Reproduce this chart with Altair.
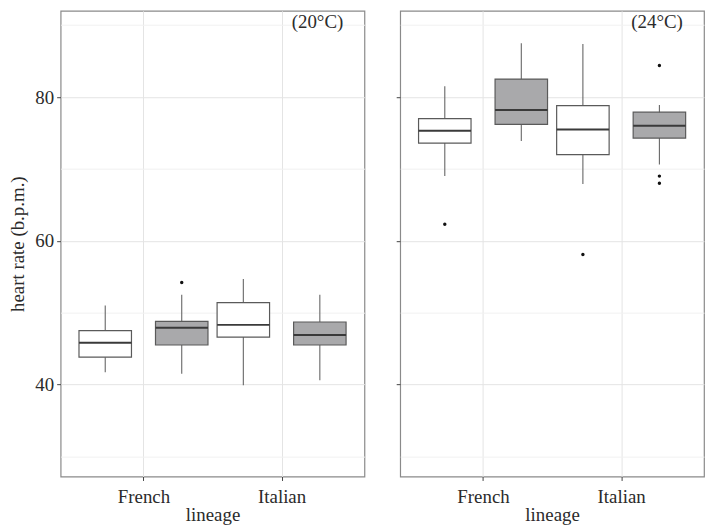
import altair as alt
import pandas as pd

# ---- data ----
lineages = ["French", "Italian"]
groups = ["group 1", "group 2"]          # white / grey boxes
temperatures = ["20°C", "24°C"]

# order of boxes: French g1, French g2, Italian g1, Italian g2
box_lineage = ["French", "French", "Italian", "Italian"]
box_group = ["group 1", "group 2", "group 1", "group 2"]

lower_20 = [41.7, 41.5, 39.9, 40.6]
q1_20 = [43.8, 45.5, 46.6, 45.5]
median_20 = [45.8, 47.9, 48.3, 46.9]
q3_20 = [47.5, 48.8, 51.4, 48.7]
upper_20 = [51.0, 52.5, 54.7, 52.5]

lower_24 = [69.0, 73.9, 67.9, 70.6]
q1_24 = [73.6, 76.2, 72.0, 74.3]
median_24 = [75.3, 78.2, 75.5, 76.0]
q3_24 = [77.0, 82.5, 78.8, 77.9]
upper_24 = [81.5, 87.5, 87.4, 78.9]

out_temp = ["20°C", "24°C", "24°C", "24°C", "24°C", "24°C"]
out_lineage = ["French", "French", "Italian", "Italian", "Italian", "Italian"]
out_group = ["group 2", "group 1", "group 1", "group 2", "group 2", "group 2"]
out_value = [54.2, 62.3, 58.1, 84.4, 69.0, 68.0]

y_ticks = [30, 40, 50, 60, 70, 80, 90]

# ---- layout helpers (dodged positions on a continuous x) ----
DODGE = 0.277
HALF_W = 0.19
group_offset = {groups[0]: -DODGE, groups[1]: DODGE}


def xpos(lin, grp):
    return lineages.index(lin) + 1 + group_offset[grp]


stats = {
    "20°C": (lower_20, q1_20, median_20, q3_20, upper_20),
    "24°C": (lower_24, q1_24, median_24, q3_24, upper_24),
}

FONT = "Liberation Serif"
TEXT = "#2b2b2b"
FS = 19

xscale = alt.Scale(domain=[0.4, 2.6], nice=False, zero=False)
yscale = alt.Scale(domain=[27.2, 92.0], nice=False, zero=False)
fill_scale = alt.Scale(domain=groups, range=["#ffffff", "#a9a9ab"])

label_expr = "[" + ",".join("'%s'" % l for l in lineages) + "][datum.value - 1]"
grid_color = {"condition": {"test": "datum.value % 20 == 0", "value": "#e4e4e4"}, "value": "#f1f1f1"}
tick_color = {"condition": {"test": "datum.value % 20 == 0", "value": "#444444"}, "value": "transparent"}


def panel(temp, first):
    lo, a, m, b, up = stats[temp]
    rows = []
    for i in range(4):
        x = xpos(box_lineage[i], box_group[i])
        rows.append(dict(lineage=box_lineage[i], group=box_group[i], x=x,
                         xl=x - HALF_W, xr=x + HALF_W,
                         lower=lo[i], q1=a[i], median=m[i], q3=b[i], upper=up[i]))
    df = pd.DataFrame(rows)
    odf = pd.DataFrame(dict(temp=out_temp, lineage=out_lineage, group=out_group, value=out_value))
    odf = odf[odf.temp == temp].copy()
    odf["x"] = [xpos(l, g) for l, g in zip(odf.lineage, odf.group)]

    xaxis = alt.Axis(values=[1, 2], labelExpr=label_expr, title="lineage",
                     grid=True, gridColor="#e4e4e4", gridWidth=1,
                     domain=False, tickSize=4, tickColor="#444",
                     labelPadding=7, titlePadding=-1)
    if first:
        yaxis = alt.Axis(values=y_ticks, title="heart rate (b.p.m.)",
                         labelExpr="datum.value % 20 == 0 ? datum.label : ''",
                         grid=True, gridColor=grid_color, tickColor=tick_color,
                         domain=False, tickSize=4, labelPadding=3, titlePadding=7)
    else:
        yaxis = alt.Axis(values=y_ticks, title=None, labels=False,
                         grid=True, gridColor=grid_color, tickColor=tick_color,
                         domain=False, tickSize=4)

    base = alt.Chart(df)
    whisk = base.mark_rule(color="#666666", strokeWidth=1.1).encode(
        x=alt.X("x:Q", scale=xscale, axis=xaxis),
        y=alt.Y("lower:Q", scale=yscale, axis=yaxis),
        y2="upper:Q",
    )
    box = base.mark_bar(stroke="#5a5a5a", strokeWidth=1.2).encode(
        x="xl:Q", x2="xr:Q", y="q1:Q", y2="q3:Q",
        color=alt.Color("group:N", scale=fill_scale, legend=None),
    )
    med = base.mark_rule(color="#3a3a3a", strokeWidth=2).encode(
        x="xl:Q", x2="xr:Q", y="median:Q",
    )
    pts = alt.Chart(odf).mark_circle(color="#111111", size=12, opacity=1).encode(
        x="x:Q", y="value:Q",
    )
    txt = alt.Chart(pd.DataFrame({"label": ["(" + temp + ")"]})).mark_text(
        font=FONT, fontSize=FS, color=TEXT, baseline="middle", align="center"
    ).encode(x=alt.datum(2.26), y=alt.datum(90.5), text="label:N")

    return alt.layer(whisk, box, med, pts, txt).properties(width=306, height=469)


chart = alt.hconcat(panel(temperatures[0], True), panel(temperatures[1], False), spacing=29).properties(
    padding={"left": 0, "top": 0, "right": 0, "bottom": 0}
).configure_view(
    stroke="#8a8a8a", strokeWidth=1.2
).configure_axis(
    labelFont=FONT, titleFont=FONT, labelFontSize=FS, titleFontSize=FS,
    labelColor=TEXT, titleColor=TEXT, titleFontWeight="normal",
)

chart.save("out.html", embed_options={"renderer": "svg", "actions": False})
